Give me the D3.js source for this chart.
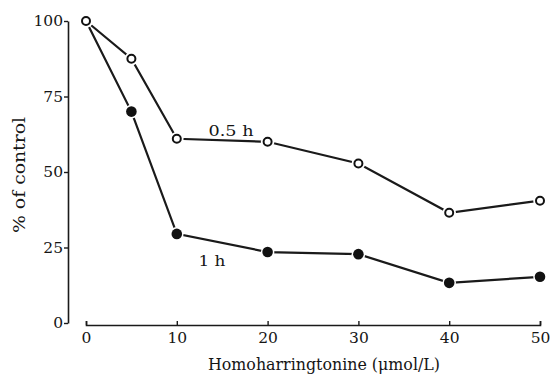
<!DOCTYPE html>
<html>
<head>
<meta charset="utf-8">
<script src="https://cdn.jsdelivr.net/npm/d3@7"></script>
<style>
  body { margin: 0; background: #fff; }
  text { font-family: "DejaVu Serif", "Liberation Serif", serif; fill: #151515; }
</style>
</head>
<body>
<svg id="chart" width="551" height="376"></svg>
<script>
// data
var doses = [0, 5, 10, 20, 30, 40, 50];
var halfHour = [100, 87.5, 61, 60, 52.8, 36.5, 40.5];
var oneHour = [100, 70, 29.5, 23.5, 22.8, 13.3, 15.3];
var yTicks = [0, 25, 50, 75, 100];
var xTicks = [0, 10, 20, 30, 40, 50];

var svg = d3.select("#chart");

var x = d3.scaleLinear().domain([0, 50]).range([86, 540]);
var y = d3.scaleLinear().domain([0, 100]).range([323, 21]);

function styleTicks(g) {
    g.select(".domain").attr("stroke", "#1a1a1a").attr("stroke-width", 1.6);
    g.selectAll(".tick line").attr("stroke", "#1a1a1a").attr("stroke-width", 1.4);
    g.selectAll(".tick text")
        .style("font-family", "'DejaVu Serif', serif")
        .style("font-size", "15.5px")
        .attr("fill", "#151515");
}

// y axis
svg.append("g")
    .attr("transform", "translate(68,0)")
    .call(d3.axisLeft(y).tickValues(yTicks).tickSizeInner(4).tickSizeOuter(0).tickPadding(1))
    .call(styleTicks);

// x axis, ticks point up into the plot
svg.append("g")
    .attr("transform", "translate(0,325)")
    .call(d3.axisBottom(x).tickValues(xTicks).tickSizeInner(-4).tickSizeOuter(-4).tickPadding(7))
    .call(styleTicks);

// axis titles
svg.append("text")
    .attr("x", 324).attr("y", 370)
    .attr("text-anchor", "middle")
    .attr("textLength", 232)
    .attr("lengthAdjust", "spacingAndGlyphs")
    .style("font-size", "16px")
    .text("Homoharringtonine (μmol/L)");

svg.append("text")
    .attr("transform", "translate(25,175) rotate(-90)")
    .attr("text-anchor", "middle")
    .attr("textLength", 116)
    .attr("lengthAdjust", "spacingAndGlyphs")
    .style("font-size", "16px")
    .text("% of control");

var line = d3.line()
    .x(function(d, i) { return x(doses[i]); })
    .y(function(d) { return y(d); });

var series = [
    { values: oneHour, open: false },
    { values: halfHour, open: true }
];

series.forEach(function(s) {
    svg.append("path")
        .datum(s.values)
        .attr("d", line)
        .attr("fill", "none")
        .attr("stroke", "#1a1a1a")
        .attr("stroke-width", 2.2);
});

// markers, with a white halo so lines stop short of them
series.forEach(function(s) {
    var g = svg.append("g");
    g.selectAll("circle.halo")
        .data(s.values)
      .enter().append("circle")
        .attr("class", "halo")
        .attr("cx", function(d, i) { return x(doses[i]); })
        .attr("cy", function(d) { return y(d); })
        .attr("r", 6.8)
        .attr("fill", "#fff");
    g.selectAll("circle.dot")
        .data(s.values)
      .enter().append("circle")
        .attr("class", "dot")
        .attr("cx", function(d, i) { return x(doses[i]); })
        .attr("cy", function(d) { return y(d); })
        .attr("r", s.open ? 4 : 5.3)
        .attr("fill", s.open ? "#fff" : "#111")
        .attr("stroke", "#111")
        .attr("stroke-width", s.open ? 2 : 0);
});

// series labels
svg.append("text")
    .attr("x", 231).attr("y", 136)
    .attr("text-anchor", "middle")
    .attr("textLength", 45)
    .attr("lengthAdjust", "spacingAndGlyphs")
    .style("font-size", "15px")
    .text("0.5 h");

svg.append("text")
    .attr("x", 212).attr("y", 266)
    .attr("text-anchor", "middle")
    .attr("textLength", 27)
    .attr("lengthAdjust", "spacingAndGlyphs")
    .style("font-size", "15px")
    .text("1 h");
</script>
</body>
</html>
